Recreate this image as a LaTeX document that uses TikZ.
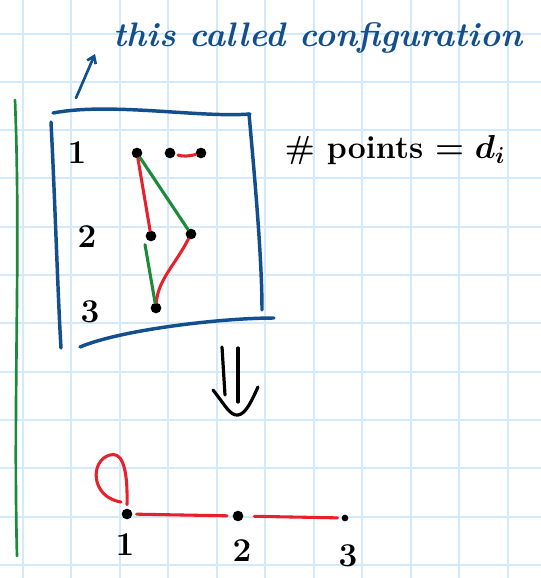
\documentclass[tikz,border=0pt]{standalone}
\usetikzlibrary{positioning,arrows.meta}
\definecolor{gridblue}{HTML}{D2EAFA}
\definecolor{inkblue}{HTML}{134F8C}
\definecolor{inkred}{HTML}{E5222B}
\definecolor{inkgreen}{HTML}{1D8A3B}
\tikzset{
  dot/.style={circle, fill=black, inner sep=0pt, minimum size=8pt},
  smalldot/.style={circle, fill=black, inner sep=0pt, minimum size=5pt},
  redline/.style={draw=inkred, line width=2.3pt, line cap=round},
  greenline/.style={draw=inkgreen, line width=2.3pt, line cap=round},
  boxline/.style={draw=inkblue, line width=2.6pt, line cap=round},
  numlabel/.style={font=\fontsize{25}{25}\selectfont\bfseries},
}

\begin{document}
\begin{tikzpicture}[x=0.75pt, y=-0.75pt]
  \useasboundingbox (0,0) rectangle (541,578);
  \fill[white] (0,0) rectangle (541,578);
  % grid paper
  \foreach \gx in {0,...,10}
    \draw[gridblue, line width=1.5pt] ({22.5+48.5*\gx},0) -- ({22.5+48.5*\gx},578);
  \foreach \gy in {0,...,11}
    \draw[gridblue, line width=1.5pt] (0,{33.5+48.3*\gy}) -- (541,{33.5+48.3*\gy});

  % margin stroke
  \draw[inkgreen, line width=2pt, line cap=round]
    (15,100) .. controls (21,250) and (13,400) .. (17,556);

  % the box round the configuration
  \draw[boxline] (53,113) .. controls (110,102) and (200,118) .. (250,114);
  \draw[boxline] (249,114) .. controls (255,180) and (262,260) .. (262,310);
  \draw[boxline] (51,122) .. controls (55,200) and (58,300) .. (61,348);
  \draw[boxline] (80,347) .. controls (120,330) and (220,318) .. (274,318);

  % title with its arrow
  \coordinate (tail) at (76,98);
  \coordinate (tip) at (95,54);
  \draw[inkblue, line width=2pt, line cap=round, -{Straight Barb[length=5pt,width=7pt]}] (tail) -- (tip);
  \node[inkblue, font=\fontsize{25.5}{26}\selectfont\bfseries\itshape] (title) at (318,38) {this called configuration};

  % rows of the configuration
  \node[numlabel] (r1) at (77,153) {1};
  \node[numlabel] (r2) at (87,237) {2};
  \node[numlabel] (r3) at (90,312) {3};
  \node[dot] (a1) at (137,153) {};
  \node[dot] (b1) at (170,153) {};
  \node[dot] (c1) at (201,153) {};
  \node[dot] (a2) at (151,236) {};
  \node[dot] (b2) at (191,234) {};
  \node[dot] (a3) at (156,308) {};
  \draw[redline] (a1) -- (a2);
  \draw[redline, shorten <=2pt] (b1) to[bend right=15] (c1);
  \draw[greenline] (a1) -- (b2);
  \draw[redline] (b2) .. controls (175,265) and (158,280) .. (a3);
  \draw[greenline] ([xshift=-4.5pt,yshift=-6.5pt]a2.center) -- (a3);

  % count of points
  \node[font=\fontsize{24}{24}\selectfont\bfseries\mathversion{bold}] (count) at (395,150) {\# points $= d_i$};

  % implies
  \draw[line width=2.4pt, line cap=round] (222,347) -- (225,395);
  \draw[line width=2.4pt, line cap=round] (238,348) -- (238,402);
  \draw[line width=2.4pt, line cap=round] (213,390) .. controls (225,405) and (230,416) .. (238,415)
    .. controls (246,414) and (252,400) .. (258,387);

  % resulting graph
  \node[dot] (v1) at (127,514) {};
  \node[dot] (v2) at (238,516) {};
  \node[smalldot] (v3) at (345,518) {};
  \draw[redline] ([yshift=7pt]v1.center) .. controls (128,462) and (120,452) .. (110,455)
    .. controls (90,460) and (90,497) .. (121,502);
  \draw[redline, shorten <=3pt, shorten >=4pt] (v1) -- (v2);
  \draw[redline, shorten <=8pt, shorten >=3pt] (v2) -- (v3);
  \node[numlabel] (n1) at (125,545) {1};
  \node[numlabel] (n2) at (242,551) {2};
  \node[numlabel] (n3) at (348,556) {3};
\end{tikzpicture}
\end{document}
